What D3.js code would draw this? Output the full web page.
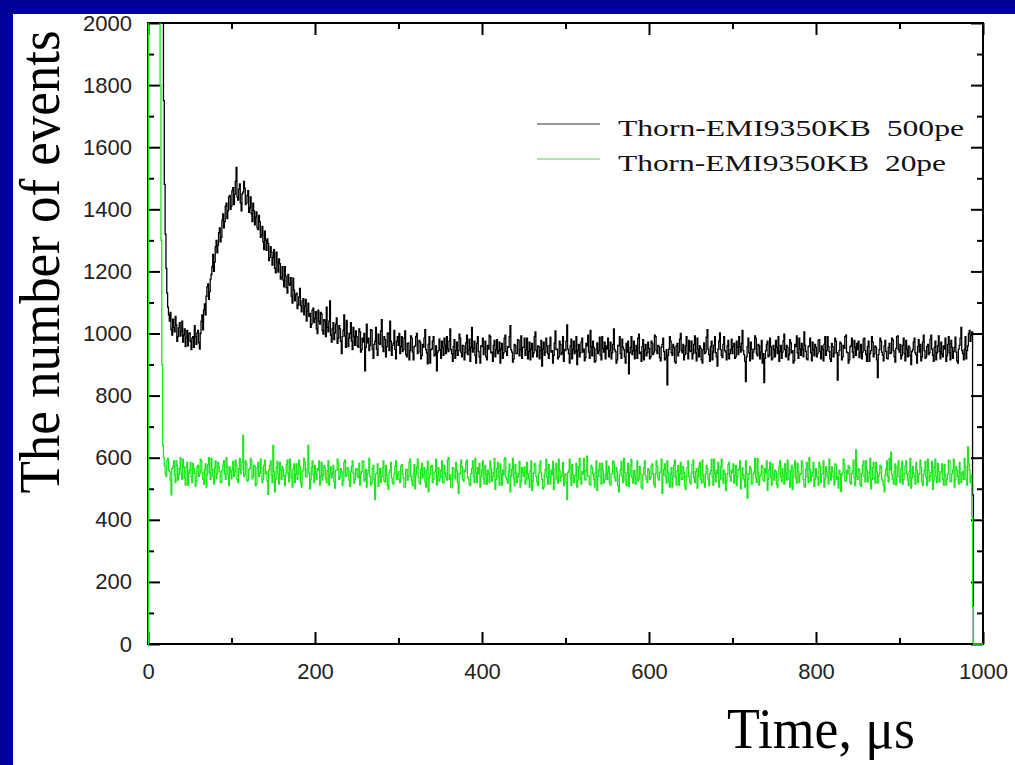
<!DOCTYPE html>
<html>
<head>
<meta charset="utf-8">
<script src="https://cdn.jsdelivr.net/npm/d3@7"></script>
<style>
  html, body { margin: 0; padding: 0; background: #ffffff; }
  svg { display: block; }
</style>
</head>
<body>
<script>
// ---------------- DATA ----------------
const binUs = 1; // histogram bin width in microseconds (values below are per bin, t = index * binUs)

const black500pe = [
0,3000,3000,3000,3000,3000,3000,3000,3000,3000,3000,3000,3000,3000,3000,3000,3000,3000,2100,1750,
1480,1320,1210,1130,1085,1060,1040,1068,1012,995,1046,1020,1005,1055,1028,975,990,1018,1035,992,
1008,1040,972,995,1015,958,985,1010,960,998,
1002,975,948,985,990,955,1025,990,965,1002,1010,970,950,1000,1040,1060,1012,1075,1095,1060,
1120,1150,1160,1110,1135,1175,1190,1215,1255,1200,1230,1280,1300,1260,1285,1325,1340,1295,1310,1365,
1385,1340,1360,1410,1420,1370,1395,1440,1445,1400,
1410,1460,1470,1415,1448,1490,1535,1440,1430,1465,1482,1420,1395,1450,1455,1490,1468,1415,1420,1445,
1460,1390,1405,1440,1385,1360,1420,1395,1350,1375,1392,1340,1335,1380,1360,1310,1318,1345,1295,1270,
1330,1300,1268,1305,1290,1235,1245,1280,1262,1220,
1245,1270,1210,1195,1262,1230,1198,1240,1225,1175,1180,1215,1172,1150,1215,1185,1148,1130,1190,1160,
1155,1180,1120,1098,1178,1140,1105,1125,1130,1080,1092,1118,1145,1090,1070,1105,1112,1060,1088,1110,
1040,1072,1098,1055,1065,1020,1030,1075,1082,1035,
1048,1070,1015,1000,1075,1040,1030,1068,1062,1010,998,1045,1040,990,1085,1020,1005,1040,1105,995,
972,1015,1035,980,1002,1030,1050,968,985,1025,1015,975,935,990,1010,1060,992,955,1042,1000,
958,985,1000,1035,975,948,1020,990,962,1008,
990,960,955,1015,1005,940,948,985,972,1000,880,955,1030,970,985,945,962,1012,1010,950,
920,965,975,1020,950,930,998,968,965,1008,1045,958,942,990,980,925,958,1000,1002,945,
1040,975,930,962,968,1010,948,918,975,990,
962,1000,935,958,990,942,948,985,1008,932,925,968,970,915,945,992,985,940,915,958,
960,990,1000,935,940,978,972,918,930,965,955,985,1012,948,938,902,965,990,905,948,
950,975,990,928,932,960,880,940,945,982,
948,920,975,955,930,985,962,935,990,950,942,975,1015,948,935,910,958,980,920,945,
972,930,945,998,985,940,925,962,960,915,938,970,995,932,948,982,910,955,1020,940,
952,975,930,905,968,990,942,925,905,960,
958,985,932,950,975,925,915,962,950,995,990,938,940,910,962,978,925,948,980,935,
945,972,905,950,968,920,938,985,995,942,930,958,955,990,1025,948,940,908,918,965,
962,935,935,980,978,928,948,992,920,955,
955,985,930,948,985,918,942,972,915,950,968,925,938,990,1005,945,925,960,958,918,
945,978,895,950,972,930,940,985,960,935,920,962,988,940,945,905,930,970,1008,948,
950,918,925,975,965,932,938,990,910,948,
945,975,1028,950,935,905,960,982,918,948,975,935,942,990,900,945,965,925,938,972,
985,940,950,912,922,968,960,995,940,920,1010,958,928,975,955,908,912,950,970,935,
945,988,930,915,990,952,940,972,918,960,
950,985,925,945,972,918,938,965,1015,948,942,905,915,962,960,990,935,920,982,955,
948,925,905,968,940,975,870,938,955,990,932,945,975,918,945,962,920,985,998,935,
940,910,958,980,915,948,965,928,938,972,
952,918,925,975,968,932,940,995,990,945,935,962,958,922,912,955,965,985,942,915,
920,948,835,930,950,990,975,938,930,965,955,910,905,960,968,928,940,982,1000,945,
938,965,915,932,960,990,935,918,978,945,
942,975,918,935,965,992,938,912,985,950,925,960,952,915,905,948,970,935,940,988,
1012,950,932,910,958,975,915,940,962,990,938,925,895,950,975,1002,948,930,922,965,
990,945,940,915,960,978,918,935,948,982,
935,958,968,920,925,975,955,932,990,958,940,968,1010,945,932,910,845,925,958,985,
938,912,972,950,918,940,950,992,985,935,928,965,960,918,940,978,905,935,842,920,
945,965,975,925,930,985,958,915,920,962,
948,925,978,955,935,990,910,942,962,920,940,975,998,948,925,962,955,915,932,980,
970,938,945,905,912,965,958,992,938,920,985,950,930,968,950,925,1005,962,942,918,
915,958,960,985,938,912,972,948,928,965,
955,925,935,978,980,942,918,960,948,912,965,990,930,945,990,958,942,918,910,968,
958,925,936,985,975,938,850,930,945,972,968,915,925,962,952,990,995,940,938,905,
915,958,960,985,940,922,978,955,930,968,
948,975,922,938,965,918,940,982,985,945,932,910,958,975,910,935,945,990,972,925,
935,960,955,915,858,932,948,985,975,940,930,912,960,978,942,920,918,955,968,935,
938,985,980,945,925,908,952,990,992,948,
940,965,918,930,962,985,935,912,978,950,925,960,955,928,900,942,948,972,985,938,
932,905,958,980,940,965,912,925,972,995,945,920,925,958,965,932,938,982,995,950,
930,910,955,975,915,938,960,992,942,918,
972,935,925,960,950,985,910,928,965,990,938,915,978,955,920,942,955,988,940,912,
905,950,962,985,1020,945,935,915,950,990,918,945,960,1000,1010,975,995,1005,480,0,
0,0,0,0,0,0,0,0,0,0,
0
];

const green20pe = [
0,3000,3000,3000,3000,3000,3000,3000,3000,3000,3000,3000,3000,3000,2400,1800,1300,900,640,600,
575,548,540,590,598,560,555,528,480,565,572,590,545,520,590,575,528,545,565,600,
548,530,595,570,535,512,570,585,512,550,
560,585,538,520,582,565,550,508,525,570,575,540,548,595,590,552,530,515,562,580,
505,545,578,600,552,530,598,562,540,515,568,590,532,548,585,570,555,522,520,560,
575,590,548,530,600,572,545,510,570,555,
532,560,588,540,555,592,575,530,520,565,598,548,560,585,672,540,545,590,580,525,
528,560,565,598,590,532,540,575,572,510,515,568,585,540,550,595,568,520,530,575,
592,548,555,525,482,560,575,590,545,520,
640,555,490,530,570,588,548,515,585,560,530,572,562,540,510,545,578,592,550,522,
595,560,535,505,565,580,520,548,580,530,548,592,572,520,505,555,560,598,585,540,
538,565,640,550,500,530,568,590,545,520,
575,548,530,565,560,590,512,540,585,528,545,575,568,532,520,558,590,512,548,570,
535,550,575,522,502,560,560,595,582,530,538,565,555,510,525,585,592,540,545,568,
565,528,508,555,572,590,550,518,530,562,
565,540,535,582,512,548,555,590,588,525,530,562,505,548,558,598,540,512,518,565,
575,530,465,548,550,580,508,542,565,520,538,568,590,525,522,575,545,510,498,552,
560,585,535,520,515,548,572,590,530,545,
555,530,520,572,578,548,535,505,505,562,562,528,540,585,595,540,525,510,548,578,
500,545,570,595,538,520,515,562,582,535,545,568,522,505,560,588,490,535,548,570,
575,520,530,552,555,595,512,540,568,525,
535,560,590,522,518,575,550,538,528,592,600,530,545,505,505,568,565,540,532,585,
558,520,485,550,548,592,572,530,525,560,555,585,592,538,530,515,510,548,565,590,
540,520,598,552,520,568,548,582,505,540,
560,590,532,515,575,545,515,560,548,520,590,565,525,540,552,598,498,530,565,585,
538,512,580,548,512,560,545,595,600,535,528,518,555,580,490,540,562,598,535,510,
578,550,520,538,548,588,505,525,568,552,
540,570,515,528,585,548,532,505,558,590,495,525,550,582,575,540,522,510,548,575,
590,552,530,500,505,548,562,595,538,515,578,540,515,560,545,588,498,530,565,582,
532,518,595,560,525,540,550,585,510,545,
548,520,465,552,560,595,535,510,578,545,520,538,545,582,505,528,570,598,532,515,
555,548,598,530,528,560,605,542,540,515,512,575,568,548,530,505,552,590,495,540,
560,582,538,515,582,560,518,530,545,590,
530,555,572,520,512,548,548,590,585,535,525,568,555,510,490,545,562,588,540,520,
598,552,528,510,550,582,508,545,575,595,535,518,558,540,515,560,590,525,532,572,
548,505,500,545,568,590,542,530,520,565,
560,530,535,575,580,548,515,505,548,590,572,535,528,552,555,595,485,545,562,580,
540,518,590,552,522,505,548,568,505,540,575,592,535,512,558,575,512,548,585,530,
530,572,552,510,498,540,568,590,540,522,
515,550,578,592,535,520,555,565,502,540,570,585,530,518,592,545,520,505,548,575,
565,532,510,548,558,595,538,512,595,550,522,560,550,585,505,530,572,595,532,518,
560,548,495,525,548,578,585,540,525,560,
552,580,518,545,575,510,538,562,560,590,500,532,568,545,530,505,590,550,470,530,
548,572,565,515,520,548,555,598,535,520,598,552,512,540,545,575,570,528,525,565,
550,590,495,530,562,585,538,512,580,545,
528,560,555,515,505,548,572,590,540,522,565,545,515,580,550,528,592,560,530,505,
558,575,498,540,568,590,535,518,582,555,520,545,548,590,575,530,510,505,562,585,
538,520,600,562,525,540,552,585,508,530,
565,540,535,512,585,570,520,548,548,590,505,532,570,555,540,515,595,550,528,570,
555,538,512,580,575,530,538,502,560,548,492,545,552,595,580,525,525,560,548,575,
568,520,515,548,558,592,535,510,625,540,
530,565,560,515,508,548,575,590,540,522,590,560,522,535,552,598,500,530,568,585,
535,518,585,555,518,540,548,575,570,530,525,512,490,545,562,590,540,522,598,560,
618,545,530,515,555,580,512,538,572,590,
538,520,565,588,515,530,550,572,590,548,528,510,555,598,502,535,572,550,540,515,
585,560,520,545,548,592,568,522,510,545,560,588,535,510,595,560,525,540,552,588,
498,525,570,595,540,520,582,555,522,548,
555,580,530,512,578,545,512,530,548,592,590,522,525,548,560,595,505,530,572,560,
540,515,585,552,520,548,555,530,598,570,530,512,635,580,560,520,545,410,120,0,
0,0,0,0,0,0,0,0,0,0,
0
];

const xMajorTicks = [0, 200, 400, 600, 800, 1000];
const xMinorTicks = [100, 300, 500, 700, 900];
const yMajorTicks = [0, 200, 400, 600, 800, 1000, 1200, 1400, 1600, 1800, 2000];
const yMinorTicks = [100, 300, 500, 700, 900, 1100, 1300, 1500, 1700, 1900];

const seriesNames = ["Thorn-EMI9350KB  500pe", "Thorn-EMI9350KB  20pe"];
const xTitle = "Time, \u03bcs";
const yTitle = "The number of events";

// ---------------- DRAWING ----------------
(function () {
const W = 1015, H = 765;
const svg = d3.select("body").append("svg").attr("width", W).attr("height", H);

svg.append("rect").attr("width", W).attr("height", H).attr("fill", "#ffffff");
svg.append("rect").attr("x", 0).attr("y", 0).attr("width", W).attr("height", 14).attr("fill", "#000099");
svg.append("rect").attr("x", 0).attr("y", 0).attr("width", 13).attr("height", H).attr("fill", "#000099");

const pL = 148, pR = 983, pT = 23, pB = 644;
const x = d3.scaleLinear().domain([0, 1000]).range([pL, pR]);
const y = d3.scaleLinear().domain([0, 2000]).range([pB, pT]);

svg.append("clipPath").attr("id", "plotclip")
  .append("rect").attr("x", pL - 1).attr("y", pT).attr("width", pR - pL + 2).attr("height", pB - pT + 1);

const fontSans = "'Liberation Sans', Arial, sans-serif";
function styleAxis(g, width) {
  g.select(".domain").remove();
  g.selectAll(".tick line").attr("stroke", "#000").attr("stroke-width", width);
  g.selectAll(".tick text").attr("fill", "#222").style("font-family", fontSans).style("font-size", "22px");
}

svg.append("g").attr("transform", `translate(0,${pB})`)
  .call(d3.axisBottom(x).tickValues(xMajorTicks).tickSize(-12).tickPadding(19).tickFormat(d3.format("d")))
  .call(g => styleAxis(g, 2));
svg.append("g").attr("transform", `translate(0,${pB})`)
  .call(d3.axisBottom(x).tickValues(xMinorTicks).tickSize(-6).tickFormat(""))
  .call(g => styleAxis(g, 2));
svg.append("g").attr("transform", `translate(0,${pT})`)
  .call(d3.axisTop(x).tickValues(xMajorTicks).tickSize(-12).tickFormat(""))
  .call(g => styleAxis(g, 2));
svg.append("g").attr("transform", `translate(0,${pT})`)
  .call(d3.axisTop(x).tickValues(xMinorTicks).tickSize(-6).tickFormat(""))
  .call(g => styleAxis(g, 2));

svg.append("g").attr("transform", `translate(${pL},0)`)
  .call(d3.axisLeft(y).tickValues(yMajorTicks).tickSize(-12).tickPadding(16).tickFormat(d3.format("d")))
  .call(g => styleAxis(g, 2));
svg.append("g").attr("transform", `translate(${pL},0)`)
  .call(d3.axisLeft(y).tickValues(yMinorTicks).tickSize(-6).tickFormat(""))
  .call(g => styleAxis(g, 2));
svg.append("g").attr("transform", `translate(${pR},0)`)
  .call(d3.axisRight(y).tickValues(yMajorTicks).tickSize(-12).tickFormat(""))
  .call(g => styleAxis(g, 2));
svg.append("g").attr("transform", `translate(${pR},0)`)
  .call(d3.axisRight(y).tickValues(yMinorTicks).tickSize(-6).tickFormat(""))
  .call(g => styleAxis(g, 2));

svg.append("rect").attr("x", pL).attr("y", pT).attr("width", pR - pL).attr("height", pB - pT)
  .attr("fill", "none").attr("stroke", "#000").attr("stroke-width", 2);

// data drawn over the frame, as in the reference
const line = d3.line().curve(d3.curveStep).x((d, i) => x(i * binUs)).y(d => y(d));
const plot = svg.append("g").attr("clip-path", "url(#plotclip)");
plot.append("path").datum(black500pe).attr("d", line)
  .attr("fill", "none").attr("stroke", "#000000").attr("stroke-width", 1.3);
plot.append("path").datum(green20pe).attr("d", line)
  .attr("fill", "none").attr("stroke", "#1ee61e").attr("stroke-width", 1.3);

const fontSerif = "'Liberation Serif', 'Times New Roman', serif";
const legendColors = ["#333333", "#5ccc5c"];
const legendY = [124, 159];
const legendLen = [346, 328];
seriesNames.forEach((name, i) => {
  svg.append("line").attr("x1", 537).attr("x2", 600).attr("y1", legendY[i]).attr("y2", legendY[i])
    .attr("stroke", legendColors[i]).attr("stroke-width", 1.2);
  svg.append("text").attr("x", 618).attr("y", legendY[i] + 12)
    .attr("textLength", legendLen[i]).attr("lengthAdjust", "spacingAndGlyphs")
    .style("white-space", "pre")
    .style("font-family", fontSerif).style("font-size", "23px").attr("fill", "#111")
    .text(name);
});

svg.append("text").attr("x", 727).attr("y", 748)
  .attr("textLength", 188).attr("lengthAdjust", "spacingAndGlyphs")
  .style("font-family", fontSerif).style("font-size", "58px").attr("fill", "#000")
  .text(xTitle);

svg.append("text")
  .attr("transform", "translate(59,262) rotate(-90)")
  .attr("text-anchor", "middle")
  .attr("textLength", 463).attr("lengthAdjust", "spacingAndGlyphs")
  .style("font-family", fontSerif).style("font-size", "56px").attr("fill", "#000")
  .text(yTitle);
})();
</script>
</body>
</html>
